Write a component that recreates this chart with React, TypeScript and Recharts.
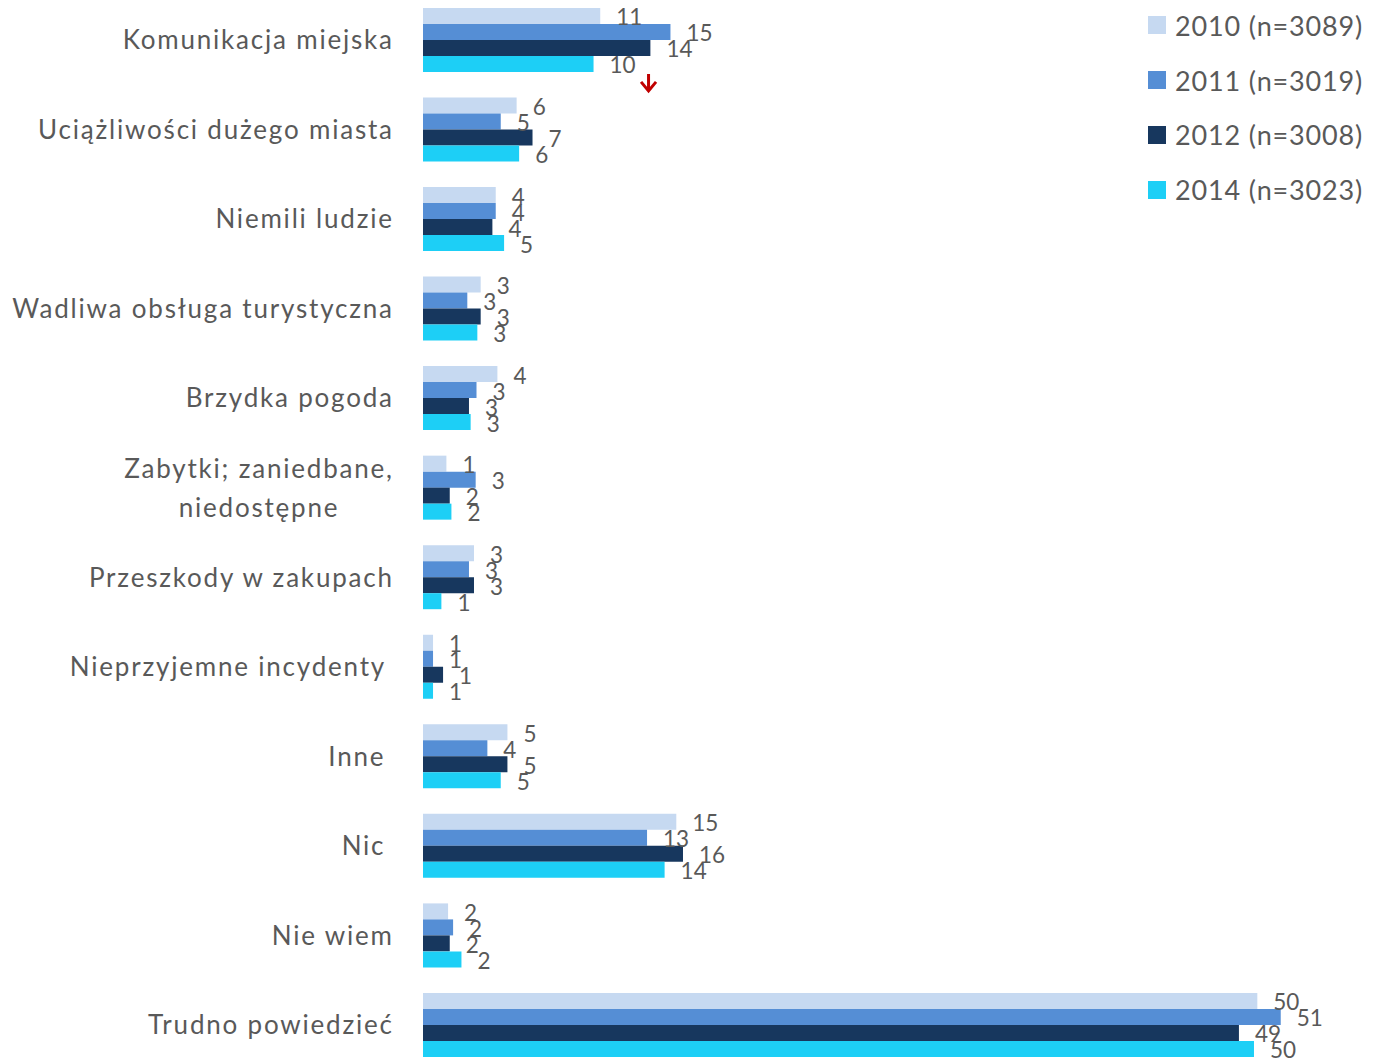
import React from "react"
import { BarChart, Bar, XAxis, YAxis, Legend, LabelList } from "recharts"

const categories = [
  "Komunikacja miejska",
  "Uciążliwości dużego miasta",
  "Niemili ludzie",
  "Wadliwa obsługa turystyczna",
  "Brzydka pogoda",
  "Zabytki; zaniedbane,\nniedostępne",
  "Przeszkody w zakupach",
  "Nieprzyjemne incydenty ",
  "Inne ",
  "Nic ",
  "Nie wiem",
  "Trudno powiedzieć",
]

const v2010 = [10.6, 5.6, 4.35, 3.45, 4.45, 1.4, 3.05, 0.6, 5.05, 15.15, 1.5, 49.9]
const v2011 = [14.8, 4.65, 4.35, 2.65, 3.2, 3.15, 2.75, 0.6, 3.85, 13.4, 1.8, 51.3]
const v2012 = [13.6, 6.55, 4.15, 3.45, 2.75, 1.6, 3.05, 1.2, 5.05, 15.55, 1.6, 48.8]
const v2014 = [10.2, 5.75, 4.85, 3.25, 2.85, 1.7, 1.1, 0.6, 4.65, 14.45, 2.3, 49.7]
// significance marks for 2014
const marks2014 = ["down", "", "", "", "", "", "", "", "", "", "", ""]

const series = [
  { key: "y2010", name: "2010 (n=3089)", color: "#C6D9F1" },
  { key: "y2011", name: "2011 (n=3019)", color: "#558ED5" },
  { key: "y2012", name: "2012 (n=3008)", color: "#17375E" },
  { key: "y2014", name: "2014 (n=3023)", color: "#1DCFF6" },
]

const data = categories.map((name, i) => ({
  name,
  y2010: v2010[i],
  y2011: v2011[i],
  y2012: v2012[i],
  y2014: v2014[i],
  m2014: marks2014[i],
}))

const FONT = "Lato, 'Open Sans', sans-serif"
const GREY = "#595959"
const CAT_SIZE = 26
const CAT_LS = 1.8

let canvas: HTMLCanvasElement | null = null
function measure(text: string) {
  if (!canvas) canvas = document.createElement("canvas")
  const ctx = canvas.getContext("2d")!
  ctx.font = `${CAT_SIZE}px ${FONT}`
  return ctx.measureText(text).width + text.length * CAT_LS
}

function CategoryTick(props: any) {
  const { x, y, payload } = props
  const lines = String(payload.value).split("\n")
  const common = {
    fill: GREY,
    fontSize: CAT_SIZE,
    fontFamily: FONT,
    letterSpacing: CAT_LS,
    style: { whiteSpace: "pre" as const },
  }
  if (lines.length === 1) {
    return (
      <text x={x} y={y} dy={9} textAnchor="end" {...common}>
        {lines[0]}
      </text>
    )
  }
  const w = measure(lines[0])
  const cx = x - w / 2
  return (
    <text x={cx} y={y} textAnchor="middle" {...common}>
      {lines.map((l, i) => (
        <tspan key={i} x={cx} dy={i === 0 ? -10 : 39}>
          {l}
        </tspan>
      ))}
    </text>
  )
}

function ValueLabel(props: any) {
  const { x, y, width, height, value } = props
  return (
    <text x={x + width + 16} y={y + height / 2 + 9.5} fill={GREY} fontSize={22.5} fontFamily={FONT}>
      {Math.round(value)}
    </text>
  )
}

function ArrowMark(props: any) {
  const { x, y, width, value } = props
  if (value !== "down") return null
  const ax = x + width + 55
  const top = y + 18
  return (
    <path
      d={`M${ax} ${top} L${ax} ${top + 17} M${ax - 7.5} ${top + 8} L${ax} ${top + 17} L${ax + 7.5} ${top + 8}`}
      stroke="#C00000"
      strokeWidth={3}
      fill="none"
    />
  )
}

function LegendBox() {
  return (
    <div style={{ fontFamily: FONT, fontSize: 27, letterSpacing: 0.85, color: GREY }}>
      {series.map((s) => (
        <div key={s.key} style={{ display: "flex", alignItems: "center", height: 54.8 }}>
          <span style={{ width: 18, height: 18, background: s.color, marginRight: 9, display: "inline-block" }} />
          <span>{s.name}</span>
        </div>
      ))}
    </div>
  )
}

export default function App() {
  return (
    <div style={{ position: "absolute", left: 0, top: 0, width: 1381, height: 1059, overflow: "hidden", background: "#fff" }}>
      <div style={{ marginTop: -20 }}>
        <BarChart
          width={1381}
          height={1095}
          data={data}
          layout="vertical"
          margin={{ top: 15.5, right: 38.4, bottom: 4.9, left: 0 }}
          barGap={0}
          barCategoryGap={12.4}
        >
          <XAxis type="number" domain={[0, 55]} hide />
          <YAxis
            type="category"
            dataKey="name"
            width={423}
            axisLine={false}
            tickLine={false}
            tickSize={0}
            tickMargin={29.2}
            interval={0}
            tick={<CategoryTick />}
          />
          <Legend
            layout="vertical"
            align="center"
            verticalAlign="middle"
            content={() => <LegendBox />}
            wrapperStyle={{ position: "absolute", left: 1148, top: 18, width: 233 }}
          />
          {series.map((s) => (
            <Bar key={s.key} dataKey={s.key} name={s.name} fill={s.color} isAnimationActive={false}>
              <LabelList dataKey={s.key} content={<ValueLabel />} />
              {s.key === "y2014" && <LabelList dataKey="m2014" content={<ArrowMark />} />}
            </Bar>
          ))}
        </BarChart>
      </div>
    </div>
  )
}
